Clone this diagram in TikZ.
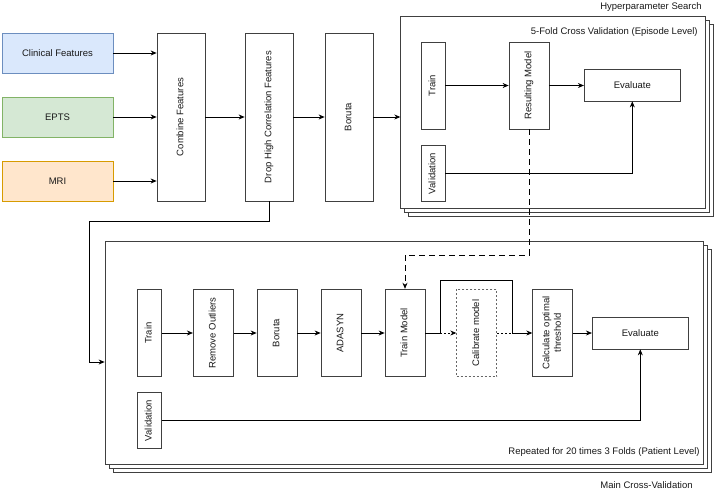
\documentclass[tikz,border=0pt]{standalone}
\usepackage{fontspec}
\setmainfont{Liberation Sans}
\usetikzlibrary{arrows.meta}
\definecolor{fillclin}{HTML}{DAE8FC}
\definecolor{lineclin}{HTML}{6C8EBF}
\definecolor{fillepts}{HTML}{D5E8D4}
\definecolor{lineepts}{HTML}{82B366}
\definecolor{fillmri}{HTML}{FFE6CC}
\definecolor{linemri}{HTML}{D79B00}
\newcommand{\vlabel}[1]{\rotatebox{90}{\begin{tabular}{@{}c@{}}#1\end{tabular}}}

\begin{document}
\begin{tikzpicture}
	[%
	x=1pt, y=-1pt, line width=0.75pt, >={Stealth[length=6pt,width=5pt]},%
	every node/.style={font=\fontsize{9.5}{11.5}\selectfont, text=black!90},%
	input/.style ={rectangle,	inner sep=0pt,	minimum width=111pt,	minimum height=40pt},%
	stage/.style ={rectangle,	draw=black!75,	fill=white,	inner sep=0pt,	minimum width=48pt,	minimum height=168pt},%
	slim/.style  ={rectangle,	draw=black!75,	fill=white,	inner sep=0pt,	minimum width=24pt},%
	wide/.style  ={rectangle,	draw=black!75,	fill=white,	inner sep=0pt,	minimum width=96pt,	minimum height=32pt},%
	layer/.style ={rectangle,	draw=black!75,	fill=white,	inner sep=0pt},%
	caption/.style={anchor=east,	inner sep=0pt},%
	dashline/.style={dash pattern=on 6pt off 4pt},%
	dotline/.style ={dash pattern=on 2pt off 2pt},%
	]
	\useasboundingbox (0,0) rectangle (715,491);

	\newcommand\lin{57.5}
	\newcommand{\lcomb}{181}
	\newcommand{\ldrop}{269}
	\newcommand{\lbor}{349}

	% inputs and feature stages
	\foreach \n/\y/\t in {clin/53/Clinical Features, epts/117/EPTS, mri/181/MRI}
		\node (\n) at (\lin,\y) [input, fill=fill\n, draw=line\n] {\t};

	\foreach \n/\x/\t in {comb/\lcomb/Combine Features, drop/\ldrop/Drop High Correlation Features, boruta/\lbor/Boruta}
		\node (\n) at (\x,117) [stage] {\vlabel{\t}};

	% hyperparameter search
	\foreach \s in {8,4}
		\node at (552.85+\s,112.35+\s) [layer, minimum width=304.3pt, minimum height=191.3pt] {};
	\node (hpbox) at (552.85,112.35) [layer, minimum width=304.3pt, minimum height=191.3pt] {};
	\node (hptitle) at (702,7) [caption] {Hyperparameter Search};
	\node (hpfold) at (698,32) [caption] {5-Fold Cross Validation (Episode Level)};

	\node (hptrain)	at (433,85.5)	[slim, minimum height=87pt] {\vlabel{Train}};
	\node (hpres)	at (529,85.5)	[slim, minimum width=40pt, minimum height=87pt] {\vlabel{Resulting Model}};
	\node (hpeval)	at (632.3,85)	[wide] {Evaluate};
	\node (hpval)	at (433,173.5)	[slim, minimum height=56.5pt] {\vlabel{Validation}};

	% main cross-validation
	\foreach \s in {8,4}
		\node at (404.15+\s,353+\s) [layer, minimum width=598.3pt, minimum height=222.6pt] {};
	\node (mainbox) at (404.15,353) [layer, minimum width=598.3pt, minimum height=222.6pt] {};
	\node (mainrep) at (700,452) [caption] {Repeated for 20 times 3 Folds (Patient Level)};
	\node (maintitle) at (693,485) [caption] {Main Cross-Validation};

	\node (mtrain) at (149.3,333) [slim, minimum height=87.7pt] {\vlabel{Train}};
	\foreach \n/\x/\t in {outl/213.3/Remove Outliers, mbor/277/Boruta, adasyn/341/ADASYN, tmodel/405/Train Model, calc/552.7/Calculate optimal\\threshold}
		\node (\n) at (\x,333) [slim, minimum width=40pt, minimum height=87.7pt] {\vlabel{\t}};
	\node (calib) at (476.7,333) [slim, minimum width=40pt, minimum height=87.7pt, draw=black!60, dotline] {\vlabel{Calibrate model}};
	\node (meval) at (640.3,333) [wide] {Evaluate};
	\node (mval) at (149.3,420.5) [slim, minimum height=55.6pt] {\vlabel{Validation}};

	\coordinate (dropturn) at (89,221);
	\coordinate (dashturn) at (529,255);
	\coordinate (split) at (440,333);
	\coordinate (merge) at (512.7,333);
	\coordinate (bypass) at (476.7,280.7);

	% interconnections
	\foreach \n in {clin,epts,mri}
		\draw [->] (\n) -- (\n -| comb.west);
	\draw [->] (comb) -- (drop);
	\draw [->] (drop) -- (boruta);
	\draw [->] (boruta) -- (boruta -| hpbox.west);
	\draw [->] (drop) |- (dropturn) |- ([yshift=-9pt]mainbox.west);

	\draw [->] (hptrain) -- (hpres);
	\draw [->] (hpres) -- (hpres -| hpeval.west);
	\draw [->] (hpval) -| (hpeval);
	\draw [dashline, ->] (hpres) -- (dashturn) -| (tmodel);

	\foreach \a/\b in {mtrain/outl, outl/mbor, mbor/adasyn, adasyn/tmodel}
		\draw [->] (\a) -- (\b);
	\draw (tmodel) -- (split);
	\draw [dotline, ->] (split) -- (calib);
	\draw [dotline] (calib) -- (merge);
	\draw [->] (split) |- (bypass) -| (merge) -- (calc);
	\draw [->] (calc) -- (meval);
	\draw [->] (mval) -| (meval);

\end{tikzpicture}
\end{document}
